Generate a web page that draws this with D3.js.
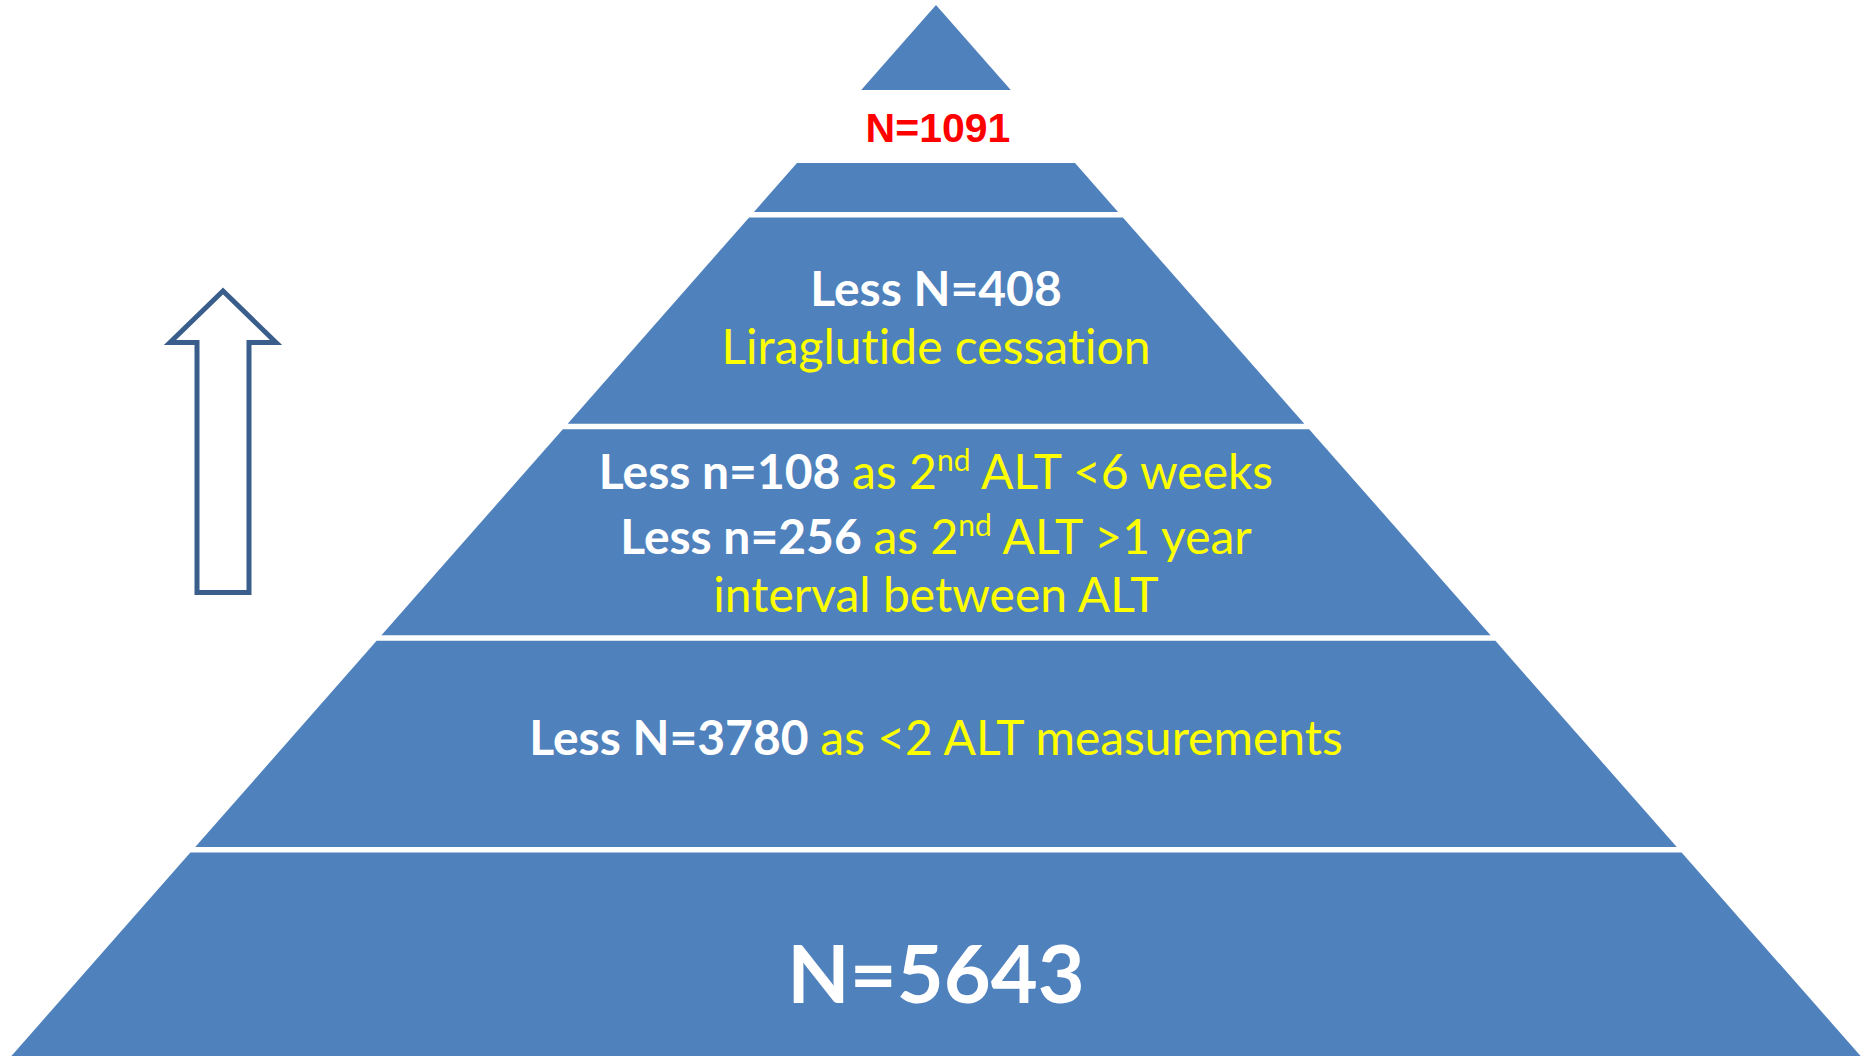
<!DOCTYPE html>
<html>
<head>
<meta charset="utf-8">
<script src="https://cdn.jsdelivr.net/npm/d3@7"></script>
<style>
  html, body { margin: 0; padding: 0; background: #fff; }
  svg { display: block; }
  text { font-family: Lato, "Open Sans", sans-serif; font-variant-ligatures: none; }
</style>
</head>
<body>
<svg id="pyramid" width="1864" height="1056"></svg>
<script>
// Cohort numbers, bottom of the pyramid to the top
var startN = 5643;
var finalN = 1091;
var exclusionSymbols = ["N", "n", "n", "N"];
var exclusionCounts = [3780, 108, 256, 408];
var exclusionReasons = [
  "as <2 ALT measurements",
  "as 2^{nd} ALT <6 weeks",
  "as 2^{nd} ALT >1 year",
  "Liraglutide cessation"
];
var extraLine = "interval between ALT";
var levels = [0, 1, 2, 3, 4, 5];

var svg = d3.select("#pyramid"),
    width = +svg.attr("width"),
    height = +svg.attr("height");

var blue = "#4f81bd",
    yellow = "#ffff00",
    cx = 936;

// level 0 is the (cropped) base, level 5 the apex
var y = d3.scaleLinear().domain([0, 5]).range([1061.5, 3]);
// half width of the pyramid at a given pixel y
var halfW = d3.scaleLinear().domain([5, 1061]).range([0, 929]);

var gap = 2.75;

function trapezoid(y0, y1) {
  // y0 bottom, y1 top (pixels)
  var pts = [
    [cx - halfW(y0), y0],
    [cx + halfW(y0), y0],
    [cx + halfW(y1), y1],
    [cx - halfW(y1), y1]
  ];
  return d3.line()(pts) + "Z";
}

// four full tiers
var tiers = levels.slice(0, 4).map(function(l) {
  return { bottom: y(l) - (l === 0 ? 0 : gap), top: y(l + 1) + gap };
});
// top tier is cut open to hold the final N
tiers.push({ bottom: y(4) - gap, top: 163 });
tiers.push({ bottom: 90, top: y(5) + 2 });

svg.append("g")
    .attr("class", "tiers")
  .selectAll("path")
  .data(tiers)
  .enter().append("path")
    .attr("d", function(d) { return trapezoid(d.bottom, d.top); })
    .attr("fill", blue);

// hollow arrow on the left
svg.append("path")
    .attr("d", d3.line()([[223, 291], [170, 342.5], [197, 342.5], [197, 592.5],
                           [249, 592.5], [249, 342.5], [276, 342.5]]) + "Z")
    .attr("fill", "#fff")
    .attr("stroke", "#3a5e8c")
    .attr("stroke-width", 5)
    .attr("stroke-miterlimit", 10);

// write a line made of bold white label + yellow reason (with ^{sup} support)
function addLine(baseline, label, reason, size) {
  var t = svg.append("text")
      .attr("x", cx)
      .attr("y", baseline)
      .attr("text-anchor", "middle")
      .attr("font-size", size);
  if (label) {
    t.append("tspan")
        .attr("fill", "#fff")
        .attr("font-weight", 700)
        .text(label + (reason ? " " : ""));
  }
  if (reason) {
    var parts = reason.split(/\^\{(.*?)\}/);
    var shift = Math.round(size * 0.38);
    for (var i = 0; i < parts.length; i++) {
      if (parts[i] === "") continue;
      var sp = t.append("tspan").attr("fill", yellow).text(parts[i]);
      if (i % 2 === 1) {
        sp.attr("font-size", Math.round(size * 0.62)).attr("dy", -shift);
      } else if (i > 0) {
        sp.attr("dy", shift);
      }
    }
  }
  return t;
}

function lessLabel(i) {
  return "Less " + exclusionSymbols[i] + "=" + exclusionCounts[i];
}

// bottom tier
svg.append("text")
    .attr("x", cx)
    .attr("y", 1003)
    .attr("text-anchor", "middle")
    .attr("font-size", 81)
    .attr("font-weight", 700)
    .attr("fill", "#fff")
    .text("N=" + startN);

addLine(755, lessLabel(0), exclusionReasons[0], 48);
addLine(489, lessLabel(1), exclusionReasons[1], 48);
addLine(554, lessLabel(2), exclusionReasons[2], 48);
addLine(612, null, extraLine, 48);
addLine(306, lessLabel(3), null, 48);
addLine(364, null, exclusionReasons[3], 48);

svg.append("text")
    .attr("x", 938)
    .attr("y", 142)
    .attr("text-anchor", "middle")
    .style("font-family", "'Liberation Sans', Arial, sans-serif")
    .attr("font-size", 41)
    .attr("font-weight", 700)
    .attr("fill", "#ff0000")
    .text("N=" + finalN);
</script>
</body>
</html>
